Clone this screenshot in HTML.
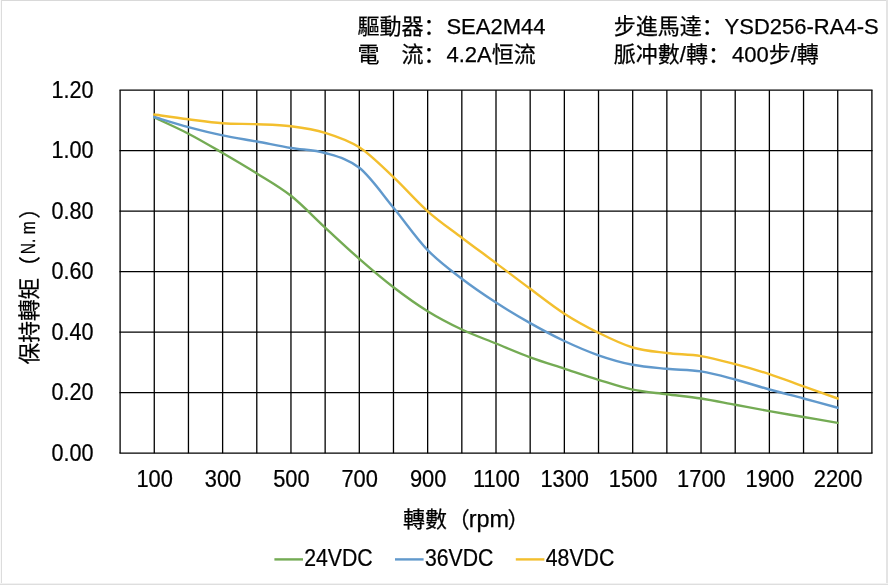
<!DOCTYPE html>
<html lang="zh">
<head>
<meta charset="utf-8">
<title>SEA2M44 / YSD256-RA4-S</title>
<style>
html,body{margin:0;padding:0;background:#fff;}
body{width:888px;height:585px;overflow:hidden;}
svg{display:block;}
text{stroke:#000;stroke-width:0.25px;font-family:"Liberation Sans","Noto Sans CJK SC",sans-serif;fill:#000;}
.t{font-size:22px;}
.k{font-size:24px;}
.g{stroke:#000;stroke-width:1.3;fill:none;}
.s{fill:none;stroke-width:2.4;stroke-linecap:round;stroke-linejoin:round;}
</style>
</head>
<body>
<svg width="888" height="585" viewBox="0 0 888 585">
<rect x="0" y="0" width="888" height="585" fill="#fff"/>
<rect x="0" y="0" width="888" height="1" fill="#d9d9d9"/>
<rect x="0" y="0" width="1" height="585" fill="#fafafa"/>
<rect x="1" y="0" width="1" height="585" fill="#dcdcdc"/>
<rect x="886" y="0" width="2" height="585" fill="#e4e4e4"/>
<rect x="0" y="583" width="888" height="1" fill="#f2f2f2"/>
<rect x="0" y="584" width="888" height="1" fill="#dedede"/>

<g class="g">
<line x1="120.10" y1="90.20" x2="120.10" y2="453.20"/>
<line x1="154.27" y1="90.20" x2="154.27" y2="453.20"/>
<line x1="188.45" y1="90.20" x2="188.45" y2="453.20"/>
<line x1="222.62" y1="90.20" x2="222.62" y2="453.20"/>
<line x1="256.79" y1="90.20" x2="256.79" y2="453.20"/>
<line x1="290.96" y1="90.20" x2="290.96" y2="453.20"/>
<line x1="325.14" y1="90.20" x2="325.14" y2="453.20"/>
<line x1="359.31" y1="90.20" x2="359.31" y2="453.20"/>
<line x1="393.48" y1="90.20" x2="393.48" y2="453.20"/>
<line x1="427.65" y1="90.20" x2="427.65" y2="453.20"/>
<line x1="461.83" y1="90.20" x2="461.83" y2="453.20"/>
<line x1="496.00" y1="90.20" x2="496.00" y2="453.20"/>
<line x1="530.17" y1="90.20" x2="530.17" y2="453.20"/>
<line x1="564.35" y1="90.20" x2="564.35" y2="453.20"/>
<line x1="598.52" y1="90.20" x2="598.52" y2="453.20"/>
<line x1="632.69" y1="90.20" x2="632.69" y2="453.20"/>
<line x1="666.86" y1="90.20" x2="666.86" y2="453.20"/>
<line x1="701.04" y1="90.20" x2="701.04" y2="453.20"/>
<line x1="735.21" y1="90.20" x2="735.21" y2="453.20"/>
<line x1="769.38" y1="90.20" x2="769.38" y2="453.20"/>
<line x1="803.55" y1="90.20" x2="803.55" y2="453.20"/>
<line x1="837.73" y1="90.20" x2="837.73" y2="453.20"/>
<line x1="871.90" y1="90.20" x2="871.90" y2="453.20"/>
<line x1="119.45" y1="90.20" x2="872.55" y2="90.20"/>
<line x1="119.45" y1="150.70" x2="872.55" y2="150.70"/>
<line x1="119.45" y1="211.20" x2="872.55" y2="211.20"/>
<line x1="119.45" y1="271.70" x2="872.55" y2="271.70"/>
<line x1="119.45" y1="332.20" x2="872.55" y2="332.20"/>
<line x1="119.45" y1="392.70" x2="872.55" y2="392.70"/>
<line x1="119.45" y1="453.20" x2="872.55" y2="453.20"/>
</g>
<path class="s" stroke="#74ab54" d="M154.27 117.50C159.97 120.20 177.05 127.78 188.45 133.70C199.84 139.62 211.23 146.38 222.62 153.00C234.01 159.62 245.40 166.27 256.79 173.40C268.18 180.53 279.57 186.77 290.96 195.80C302.35 204.83 313.75 217.10 325.14 227.60C336.53 238.10 347.92 248.87 359.31 258.80C370.70 268.73 382.09 278.47 393.48 287.20C404.87 295.93 416.26 304.15 427.65 311.20C439.05 318.25 450.44 324.12 461.83 329.50C473.22 334.88 484.61 338.87 496.00 343.50C507.39 348.13 518.78 353.12 530.17 357.30C541.56 361.48 552.95 364.85 564.35 368.60C575.74 372.35 587.13 376.28 598.52 379.80C609.91 383.32 621.30 387.30 632.69 389.70C644.08 392.10 655.47 392.73 666.86 394.20C678.25 395.67 689.65 396.73 701.04 398.50C712.43 400.27 723.82 402.70 735.21 404.80C746.60 406.90 757.99 409.07 769.38 411.10C780.77 413.13 792.16 415.03 803.55 417.00C814.95 418.97 832.03 421.92 837.73 422.90"/>
<path class="s" stroke="#6199cc" d="M154.27 117.00C159.97 118.68 177.05 124.03 188.45 127.10C199.84 130.17 211.23 133.00 222.62 135.40C234.01 137.80 245.40 139.40 256.79 141.50C268.18 143.60 279.57 146.08 290.96 148.00C302.35 149.92 313.75 149.70 325.14 153.00C336.53 156.30 347.92 158.68 359.31 167.80C370.70 176.92 382.09 193.98 393.48 207.70C404.87 221.42 416.26 238.27 427.65 250.10C439.05 261.93 450.44 269.97 461.83 278.70C473.22 287.43 484.61 295.10 496.00 302.50C507.39 309.90 518.78 316.68 530.17 323.10C541.56 329.52 552.95 335.63 564.35 341.00C575.74 346.37 587.13 351.33 598.52 355.30C609.91 359.27 621.30 362.55 632.69 364.80C644.08 367.05 655.47 367.70 666.86 368.80C678.25 369.90 689.65 369.62 701.04 371.40C712.43 373.18 723.82 376.48 735.21 379.50C746.60 382.52 757.99 386.33 769.38 389.50C780.77 392.67 792.16 395.46 803.55 398.50C814.95 401.54 832.03 406.21 837.73 407.75"/>
<path class="s" stroke="#f3bf2e" d="M154.27 114.50C159.97 115.30 177.05 117.83 188.45 119.30C199.84 120.77 211.23 122.48 222.62 123.30C234.01 124.12 245.40 123.70 256.79 124.20C268.18 124.70 279.57 124.87 290.96 126.30C302.35 127.73 313.75 129.30 325.14 132.80C336.53 136.30 347.92 139.90 359.31 147.30C370.70 154.70 382.09 166.53 393.48 177.20C404.87 187.87 416.26 201.22 427.65 211.30C439.05 221.38 450.44 229.07 461.83 237.70C473.22 246.33 484.61 254.58 496.00 263.10C507.39 271.62 518.78 280.37 530.17 288.80C541.56 297.23 552.95 306.37 564.35 313.70C575.74 321.03 587.13 327.17 598.52 332.80C609.91 338.43 621.30 344.13 632.69 347.50C644.08 350.87 655.47 351.57 666.86 353.00C678.25 354.43 689.65 354.23 701.04 356.10C712.43 357.97 723.82 361.20 735.21 364.20C746.60 367.20 757.99 370.40 769.38 374.10C780.77 377.80 792.16 382.33 803.55 386.40C814.95 390.47 832.03 396.48 837.73 398.50"/>
<g class="k" text-anchor="end">
<text transform="translate(93.5,97.5) scale(0.90,1)">1.20</text>
<text transform="translate(93.5,158.0) scale(0.90,1)">1.00</text>
<text transform="translate(93.5,218.5) scale(0.90,1)">0.80</text>
<text transform="translate(93.5,279.0) scale(0.90,1)">0.60</text>
<text transform="translate(93.5,339.5) scale(0.90,1)">0.40</text>
<text transform="translate(93.5,400.0) scale(0.90,1)">0.20</text>
<text transform="translate(93.5,460.5) scale(0.90,1)">0.00</text>
</g>
<g class="k" text-anchor="middle">
<text transform="translate(154.7,486.5) scale(0.91,1)">100</text>
<text transform="translate(223.0,486.5) scale(0.91,1)">300</text>
<text transform="translate(291.4,486.5) scale(0.91,1)">500</text>
<text transform="translate(359.7,486.5) scale(0.91,1)">700</text>
<text transform="translate(428.1,486.5) scale(0.91,1)">900</text>
<text transform="translate(496.4,486.5) scale(0.91,1)">1100</text>
<text transform="translate(564.7,486.5) scale(0.91,1)">1300</text>
<text transform="translate(633.1,486.5) scale(0.91,1)">1500</text>
<text transform="translate(701.4,486.5) scale(0.91,1)">1700</text>
<text transform="translate(769.8,486.5) scale(0.91,1)">1900</text>
<text transform="translate(838.1,486.5) scale(0.91,1)">2200</text>
</g>
<g class="t">
<text x="357.4" y="33.6">驅動器：</text><text x="446.4" y="33.6">SEA2M44</text>
<text x="357.4" y="62.4">電　流：</text><text x="446.4" y="62.4">4.2A恒流</text>
<text x="613.8" y="33.6">步進馬達：</text><text x="724.6" y="33.6">YSD256-RA4-S</text>
<text x="613.8" y="62.4">脈冲數/轉：</text><text x="732" y="62.4">400步/轉</text>
<text x="403" y="526.5">轉數</text><text x="447.8" y="526.5">（</text><text x="468.8" y="526.5" style="font-size:23.4px">rpm</text><text x="507.4" y="526.5">）</text>
<g transform="translate(36.5,364.5) rotate(-90)" style="font-size:21.7px"><text x="0" y="0">保持轉矩（</text><text x="110.3" y="-1.4" style="font-size:19.4px" textLength="33" lengthAdjust="spacingAndGlyphs">N. m</text><text x="145.8" y="0">）</text></g>
</g>
<g class="s" style="stroke-linecap:butt">
<line x1="274.4" y1="559.4" x2="303.0" y2="559.4" stroke="#74ab54"/>
<line x1="395.0" y1="559.4" x2="423.6" y2="559.4" stroke="#6199cc"/>
<line x1="515.8" y1="559.4" x2="544.4" y2="559.4" stroke="#f3bf2e"/>
</g>
<g class="k">
<text transform="translate(304.2,566.1) scale(0.885,1)">24VDC</text>
<text transform="translate(425.0,566.1) scale(0.885,1)">36VDC</text>
<text transform="translate(545.8,566.1) scale(0.885,1)">48VDC</text>
</g>
</svg>
</body>
</html>
